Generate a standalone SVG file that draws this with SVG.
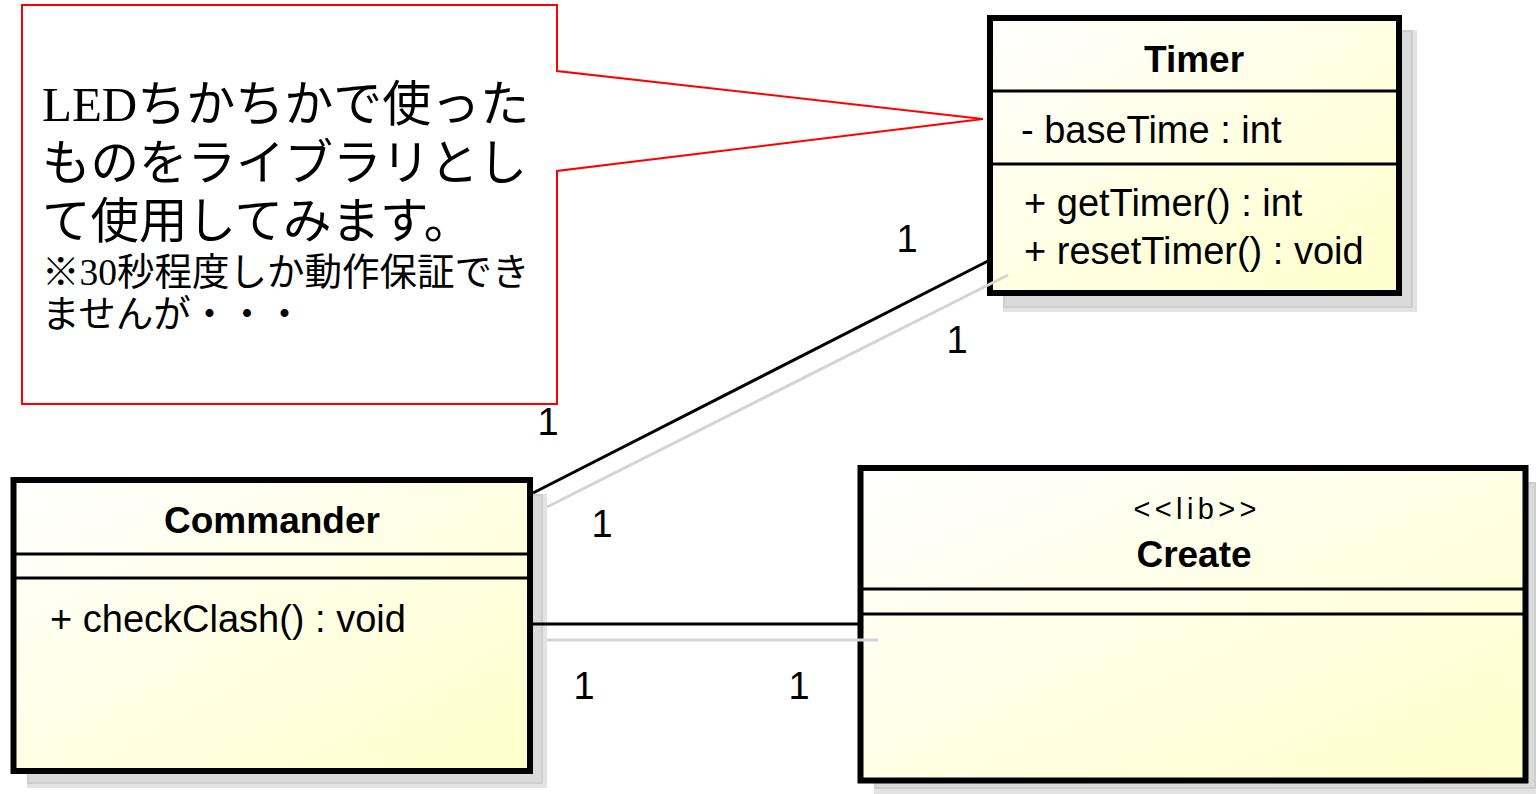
<svg xmlns="http://www.w3.org/2000/svg" width="1536" height="794" viewBox="0 0 1536 794">
  <defs>
    <linearGradient id="classFill" x1="0" y1="0" x2="1" y2="1">
      <stop offset="0" stop-color="#ffffff"/>
      <stop offset="1" stop-color="#ffffca"/>
    </linearGradient>
    <style>
      .shadow-outer { fill: #e3e3e3; }
      .shadow-inner { fill: #dadada; stroke: #cecece; stroke-width: 2; }
      .box { fill: url(#classFill); stroke: #000; stroke-width: 6; }
      .divider { stroke: #000; stroke-width: 3; }
      .title { font-family: "Liberation Sans", Arial, sans-serif; font-weight: bold; font-size: 37px; fill: #000; text-anchor: middle; }
      .member { font-family: "Liberation Sans", Arial, sans-serif; font-size: 38px; fill: #000; }
      .stereo { font-family: "Liberation Sans", Arial, sans-serif; font-size: 29px; fill: #000; text-anchor: middle; }
      .mult { font-family: "Liberation Sans", Arial, sans-serif; font-size: 38px; fill: #000; text-anchor: middle; }
      .assoc { stroke: #000; stroke-width: 3; fill: none; }
      .assoc-shadow { stroke: #d4d4d4; stroke-width: 3; fill: none; }
      .note { fill: #fff; stroke: #ff0000; stroke-width: 2; }
      .note-text { font-family: "Liberation Serif", "Noto Sans CJK JP", serif; fill: #000; }
    </style>
  </defs>

  <rect width="1536" height="794" fill="#fff"/>

  <!-- comment note with callout pointing at Timer -->
  <g id="note">
    <path class="note" d="M22,5 H557 V71 L983,119 L557,171 V404 H22 Z"/>
    <text class="note-text" font-size="49" x="42" y="121">LEDちかちかで使った</text>
    <text class="note-text" font-size="48.5" x="42" y="180">ものをライブラリとし</text>
    <text class="note-text" font-size="48.5" x="42" y="238">て使用してみます。</text>
    <text class="note-text" font-size="37.5" x="42" y="285">※30秒程度しか動作保証でき</text>
    <text class="note-text" font-size="37.5" x="42" y="327">ませんが・・・</text>
  </g>

  <!-- Timer class -->
  <g id="timer">
    <rect class="shadow-outer" x="1003" y="30" width="414" height="282"/>
    <rect class="shadow-inner" x="1004" y="31" width="408" height="276"/>
    <rect class="box" x="990" y="18" width="409" height="275"/>
    <line class="divider" x1="990" y1="91" x2="1399" y2="91"/>
    <line class="divider" x1="990" y1="164" x2="1399" y2="164"/>
    <text class="title" x="1194" y="72">Timer</text>
    <text class="member" x="1021" y="143">- baseTime : int</text>
    <text class="member" x="1024" y="216">+ getTimer() : int</text>
    <text class="member" x="1024" y="264">+ resetTimer() : void</text>
  </g>

  <!-- Commander class -->
  <g id="commander">
    <rect class="shadow-outer" x="27" y="494" width="520" height="294"/>
    <rect class="shadow-inner" x="28" y="495" width="514" height="288"/>
    <rect class="box" x="13.5" y="480" width="516.5" height="291"/>
    <line class="divider" x1="13.5" y1="554" x2="530" y2="554"/>
    <line class="divider" x1="13.5" y1="578" x2="530" y2="578"/>
    <text class="title" x="272" y="533">Commander</text>
    <text class="member" x="50" y="632">+ checkClash() : void</text>
  </g>

  <!-- Create class (library stereotype) -->
  <g id="create">
    <rect class="shadow-outer" x="874" y="482" width="666" height="316"/>
    <rect class="shadow-inner" x="875" y="483" width="660" height="305"/>
    <rect class="box" x="860.5" y="468" width="665" height="312.5"/>
    <line class="divider" x1="860.5" y1="589" x2="1525.5" y2="589"/>
    <line class="divider" x1="860.5" y1="614" x2="1525.5" y2="614"/>
    <text class="stereo" x="1195" y="519" textLength="123" lengthAdjust="spacing">&lt;&lt;lib&gt;&gt;</text>
    <text class="title" x="1194" y="567">Create</text>
  </g>

  <!-- associations with multiplicities -->
  <g id="connectors">
    <line class="assoc-shadow" x1="547" y1="507" x2="1008" y2="275"/>
    <line class="assoc" x1="533" y1="493" x2="988" y2="261"/>
    <line class="assoc-shadow" x1="547" y1="640" x2="878" y2="640"/>
    <line class="assoc" x1="533" y1="624" x2="860" y2="624"/>
    <text class="mult" x="907" y="252">1</text>
    <text class="mult" x="957" y="353">1</text>
    <text class="mult" x="548" y="435">1</text>
    <text class="mult" x="602" y="537">1</text>
    <text class="mult" x="584" y="699">1</text>
    <text class="mult" x="799" y="699">1</text>
  </g>
</svg>
